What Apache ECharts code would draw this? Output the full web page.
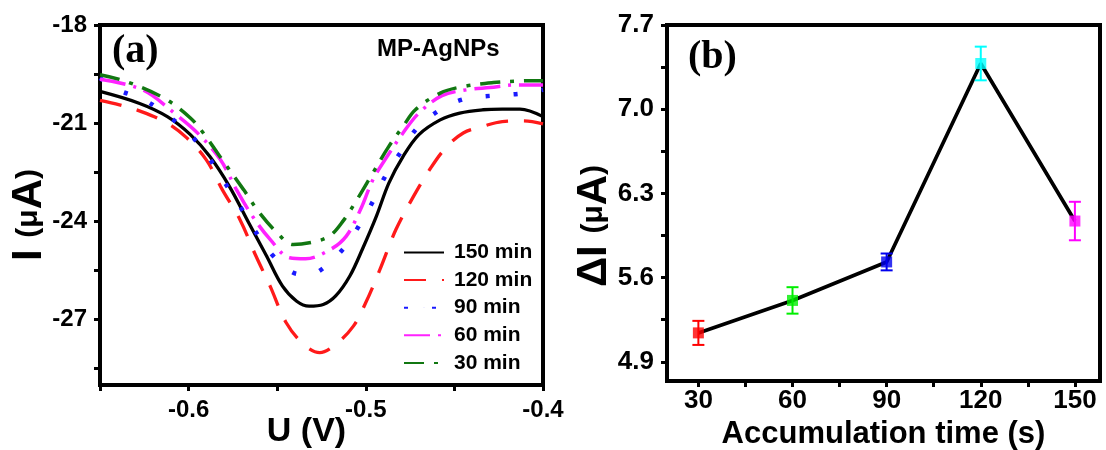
<!DOCTYPE html>
<html>
<head>
<meta charset="utf-8">
<script src="https://cdn.jsdelivr.net/npm/echarts@6/dist/echarts.min.js"></script>
<style>
  html, body { margin: 0; padding: 0; background: #fff; }
  #main { width: 1106px; height: 450px; }
</style>
</head>
<body>
<div id="main"></div>
<script>
// panel (a): DPV curves, [U (V), I (uA)]
const curve150 = [[-0.65,-20.03],[-0.628,-20.39],[-0.612,-20.80],[-0.599,-21.35],[-0.588,-22.02],[-0.577,-22.93],[-0.566,-24.05],[-0.556,-25.06],[-0.547,-25.98],[-0.539,-26.44],[-0.532,-26.59],[-0.524,-26.54],[-0.517,-26.28],[-0.509,-25.67],[-0.502,-24.86],[-0.494,-23.84],[-0.487,-22.83],[-0.479,-22.02],[-0.470,-21.35],[-0.458,-20.90],[-0.447,-20.69],[-0.434,-20.59],[-0.423,-20.57],[-0.413,-20.57],[-0.40,-20.80]];
const curve120 = [[-0.65,-20.30],[-0.639,-20.44],[-0.627,-20.64],[-0.612,-21.00],[-0.601,-21.45],[-0.590,-22.12],[-0.581,-23.03],[-0.571,-23.95],[-0.562,-25.06],[-0.554,-25.98],[-0.545,-27.09],[-0.535,-27.76],[-0.526,-28.01],[-0.517,-27.76],[-0.507,-27.20],[-0.500,-26.48],[-0.492,-25.47],[-0.483,-24.25],[-0.473,-23.23],[-0.464,-22.42],[-0.455,-21.76],[-0.445,-21.30],[-0.434,-21.10],[-0.423,-20.95],[-0.411,-20.93],[-0.40,-21.02]];
const curve90 = [[-0.65,-19.62],[-0.640,-19.98],[-0.625,-20.29],[-0.611,-20.80],[-0.599,-21.35],[-0.589,-22.02],[-0.580,-22.78],[-0.571,-23.54],[-0.563,-24.25],[-0.553,-25.01],[-0.542,-25.54],[-0.535,-25.62],[-0.527,-25.54],[-0.513,-24.86],[-0.504,-24.15],[-0.496,-23.39],[-0.489,-22.62],[-0.480,-21.86],[-0.471,-21.15],[-0.458,-20.59],[-0.445,-20.27],[-0.429,-20.16],[-0.413,-20.10],[-0.40,-19.98]];
const curve60 = [[-0.65,-19.66],[-0.626,-19.98],[-0.607,-20.74],[-0.594,-21.35],[-0.582,-22.12],[-0.573,-23.03],[-0.564,-23.84],[-0.554,-24.55],[-0.543,-25.11],[-0.534,-25.14],[-0.520,-24.86],[-0.511,-24.45],[-0.503,-23.64],[-0.496,-22.73],[-0.488,-22.02],[-0.479,-21.30],[-0.470,-20.69],[-0.457,-20.16],[-0.443,-19.98],[-0.430,-19.91],[-0.415,-19.83],[-0.40,-19.83]];
const curve30 = [[-0.65,-19.52],[-0.635,-19.73],[-0.614,-20.23],[-0.599,-20.84],[-0.591,-21.35],[-0.581,-22.12],[-0.569,-23.03],[-0.560,-23.74],[-0.550,-24.35],[-0.541,-24.71],[-0.528,-24.61],[-0.520,-24.43],[-0.513,-24.00],[-0.505,-23.34],[-0.496,-22.52],[-0.487,-21.71],[-0.479,-21.10],[-0.472,-20.59],[-0.458,-20.08],[-0.445,-19.88],[-0.428,-19.76],[-0.413,-19.71],[-0.40,-19.70]];

const uTicks = [-0.65, -0.6, -0.55, -0.5, -0.45, -0.4];
const uLabels = [-0.6, -0.5, -0.4];
const iTicks = [-28.5, -27, -25.5, -24, -22.5, -21, -19.5, -18];
const iLabels = [-27, -24, -21, -18];

// panel (b): peak current vs accumulation time
const times = [30, 60, 90, 120, 150];
const deltaI = [5.14, 5.41, 5.73, 7.38, 6.07];
const deltaErr = [0.10, 0.11, 0.07, 0.14, 0.16];
const tTicks = [30, 45, 60, 75, 90, 105, 120, 135, 150];
const tLabels = [30, 60, 90, 120, 150];
const dTicks = [4.9, 5.25, 5.6, 5.95, 6.3, 6.65, 7.0, 7.35, 7.7];
const dLabels = [4.9, 5.6, 6.3, 7.0, 7.7];

const pointColors = ['#ff0000', '#00ee00', '#0000ee', '#00ffff', '#ff00ff'];

const FONT = 'Liberation Sans';
const nameRich = {
  b: { fontSize: 42, fontWeight: 'bold', color: '#000', fontFamily: FONT },
  s: { fontSize: 30, fontWeight: 'bold', color: '#000', fontFamily: FONT }
};

function axis(grid, min, max, ticks, labels, fmt, fontSize, margin) {
  return {
    type: 'value',
    gridIndex: grid,
    min: min,
    max: max,
    nameMoveOverlap: false,
    axisLine: { show: true, onZero: false, lineStyle: { color: '#000', width: 4 } },
    axisTick: { show: true, inside: false, length: 6, customValues: ticks, lineStyle: { color: '#000', width: 3 } },
    axisLabel: { customValues: labels, formatter: fmt, fontSize: fontSize, fontWeight: 'bold', color: '#000', fontFamily: FONT, margin: margin },
    splitLine: { show: false }
  };
}

const chart = echarts.init(document.getElementById('main'));

const xa = axis(0, -0.65, -0.4, uTicks, uLabels, (v) => v.toFixed(1), 24, 13);
xa.name = 'U (V)';
xa.nameLocation = 'middle';
xa.nameGap = 30;
xa.nameTextStyle = { fontSize: 34, fontWeight: 'bold', color: '#000', fontFamily: FONT, padding: [0, 30, 0, 0] };

const ya = axis(0, -29, -18, iTicks, iLabels, (v) => String(v), 24, 13);
ya.name = '{b|I }{s|(μ}{b|A}{s|)}';
ya.nameLocation = 'middle';
ya.nameRotate = 90;
ya.nameGap = 50;
ya.nameTextStyle = { rich: nameRich, padding: [0, 20, 0, 0] };

const xb = axis(1, 20, 158, tTicks, tLabels, (v) => String(v), 26, 7);
xb.name = 'Accumulation time (s)';
xb.nameLocation = 'middle';
xb.nameGap = 38;
xb.nameTextStyle = { fontSize: 31, fontWeight: 'bold', color: '#000', fontFamily: FONT };

const yb = axis(1, 4.74, 7.7, dTicks, dLabels, (v) => v.toFixed(1), 26, 13);
yb.name = '{b|ΔI }{s|(μ}{b|A}{s|)}';
yb.nameLocation = 'middle';
yb.nameRotate = 90;
yb.nameGap = 52;
yb.nameTextStyle = { rich: nameRich, padding: [0, 46, 0, 0] };

function curve(name, data, color, dash, width) {
  return {
    name: name,
    type: 'line',
    xAxisIndex: 0,
    yAxisIndex: 0,
    data: data,
    smooth: 0.35,
    symbol: 'none',
    lineStyle: { color: color, width: width, type: dash },
    itemStyle: { color: color }
  };
}

const option = {
  animation: false,
  textStyle: { fontFamily: FONT },
  grid: [
    { left: 100, right: 563, top: 25, bottom: 65, containLabel: false, outerBoundsMode: 'none', show: true, borderColor: '#000', borderWidth: 4 },
    { left: 667, right: 6, top: 25, bottom: 69, containLabel: false, outerBoundsMode: 'none', show: true, borderColor: '#000', borderWidth: 4 }
  ],
  xAxis: [xa, xb],
  yAxis: [ya, yb],
  legend: {
    orient: 'vertical',
    left: 403,
    top: 242,
    padding: 0,
    itemWidth: 40,
    itemHeight: 0.5,
    itemGap: 6.6,
    data: ['150 min', '120 min', '90 min', '60 min', '30 min'],
    textStyle: { fontSize: 21, fontWeight: 'bold', color: '#000', fontFamily: FONT, lineHeight: 21, padding: [0, 0, 0, 5] }
  },
  graphic: [
    { type: 'text', style: { x: 112, y: 52, text: '(a)', font: 'bold 40px "Liberation Serif"', fill: '#000', verticalAlign: 'middle' } },
    { type: 'text', style: { x: 688, y: 58, text: '(b)', font: 'bold 40px "Liberation Serif"', fill: '#000', verticalAlign: 'middle' } },
    { type: 'text', style: { x: 377, y: 49, text: 'MP-AgNPs', font: 'bold 24px "Liberation Sans"', fill: '#000', verticalAlign: 'middle' } }
  ],
  series: [
    curve('150 min', curve150, '#000000', 'solid', 3.3),
    curve('120 min', curve120, '#ff1a1a', [22, 16], 3.3),
    curve('90 min', curve90, '#1a1aff', [4, 24], 4.5),
    curve('60 min', curve60, '#ff22ff', [26, 8, 3, 8], 3.5),
    curve('30 min', curve30, '#117711', [20, 10, 4, 10], 3.5),
    {
      type: 'line',
      xAxisIndex: 1,
      yAxisIndex: 1,
      data: times.map((t, i) => [t, deltaI[i]]),
      symbol: 'none',
      lineStyle: { color: '#000', width: 3.7 },
      z: 2
    },
    {
      type: 'custom',
      xAxisIndex: 1,
      yAxisIndex: 1,
      data: times.map((t, i) => [t, deltaI[i], deltaErr[i]]),
      encode: { x: 0, y: 1 },
      renderItem: (params, api) => {
        const x = api.value(0), y = api.value(1), e = api.value(2);
        const top = api.coord([x, y + e]);
        const bot = api.coord([x, y - e]);
        const st = { stroke: pointColors[params.dataIndex], lineWidth: 2 };
        const hw = 6;
        return {
          type: 'group',
          children: [
            { type: 'line', shape: { x1: top[0], y1: top[1], x2: bot[0], y2: bot[1] }, style: st },
            { type: 'line', shape: { x1: top[0] - hw, y1: top[1], x2: top[0] + hw, y2: top[1] }, style: st },
            { type: 'line', shape: { x1: bot[0] - hw, y1: bot[1], x2: bot[0] + hw, y2: bot[1] }, style: st }
          ]
        };
      },
      z: 3
    },
    {
      type: 'scatter',
      xAxisIndex: 1,
      yAxisIndex: 1,
      symbol: 'rect',
      symbolSize: 11,
      data: times.map((t, i) => ({ value: [t, deltaI[i]], itemStyle: { color: pointColors[i] } })),
      z: 4
    }
  ]
};

chart.setOption(option);
</script>
</body>
</html>
